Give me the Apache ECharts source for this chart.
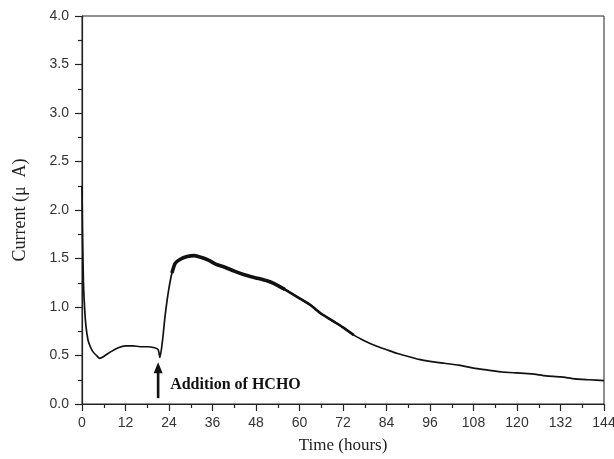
<!DOCTYPE html>
<html><head><meta charset="utf-8">
<script src="https://cdn.jsdelivr.net/npm/echarts@6/dist/echarts.min.js"></script>
<style>html,body{margin:0;padding:0;background:#fff}#c{width:614px;height:459px}</style>
</head><body><div id="c"></div>
<script>
const timeHours = [0, 0.15, 0.4, 0.75, 1.1, 1.65, 2.3, 3, 4, 4.9, 6, 8, 10, 12, 14, 16, 18, 20, 21, 21.5, 22.2, 22.9, 23.8, 24.8, 25.7, 27, 29, 31, 33, 35, 37, 39.4, 42, 45, 48, 51, 53, 56, 60, 63, 66, 69, 72, 75, 78, 81, 84, 87, 90, 93, 96, 100, 104, 108, 112, 116, 120, 124, 128, 132, 136, 140, 144];
const currentUA = [2.25, 1.75, 1.25, 0.97, 0.80, 0.66, 0.59, 0.54, 0.50, 0.47, 0.49, 0.54, 0.58, 0.60, 0.60, 0.59, 0.59, 0.58, 0.56, 0.48, 0.65, 0.9, 1.15, 1.35, 1.45, 1.49, 1.52, 1.53, 1.51, 1.48, 1.44, 1.41, 1.37, 1.33, 1.30, 1.27, 1.24, 1.18, 1.09, 1.02, 0.93, 0.86, 0.79, 0.71, 0.65, 0.60, 0.56, 0.52, 0.49, 0.46, 0.44, 0.42, 0.40, 0.37, 0.35, 0.33, 0.32, 0.31, 0.29, 0.28, 0.26, 0.25, 0.24];
const noisyStart = 24.8, noisyEnd = 56;     // segment drawn with a thick (noisy) trace
const semiNoisyStart = 53, semiNoisyEnd = 75; // tapering, medium-thickness segment
const xTicks = [0, 12, 24, 36, 48, 60, 72, 84, 96, 108, 120, 132, 144];
const yTicks = [0.0, 0.5, 1.0, 1.5, 2.0, 2.5, 3.0, 3.5, 4.0];
const annotation = { text: 'Addition of HCHO', t: 21, from: 0.43, to: 0.06 };

const pts = timeHours.map((t, i) => [t, currentUA[i]]);
const noisy = pts.filter(p => p[0] >= noisyStart && p[0] <= noisyEnd);
const semiNoisy = pts.filter(p => p[0] >= semiNoisyStart && p[0] <= semiNoisyEnd);

const chart = echarts.init(document.getElementById('c'), null, { renderer: 'canvas' });
const axisCol = '#222';
chart.setOption({
  animation: false,
  grid: { left: 82, right: 10, top: 16, bottom: 55, containLabel: false, outerBoundsMode: 'none',
    show: true, borderColor: axisCol, borderWidth: 1 },
  xAxis: {
    type: 'value', min: 0, max: 144, interval: 12,
    name: 'Time (hours)', nameLocation: 'middle', nameGap: 33,
    nameTextStyle: { fontFamily: 'Liberation Serif', fontSize: 17, color: '#222' },
    axisLine: { show: true, lineStyle: { color: axisCol, width: 1.2 } },
    axisTick: { show: true, length: 7, lineStyle: { color: axisCol, width: 1.2 } },
    minorTick: { show: true, splitNumber: 2, length: 4, lineStyle: { color: axisCol, width: 1.2 } },
    splitLine: { show: false },
    axisLabel: { fontFamily: 'Liberation Sans', fontSize: 14, color: '#333', margin: 12, hideOverlap: false,
      formatter: v => xTicks.includes(v) ? String(v) : '' }
  },
  yAxis: {
    type: 'value', min: 0, max: 4, interval: 0.5,
    name: 'Current (\u03bc\u2002A)', nameLocation: 'middle', nameGap: 53, nameRotate: 90,
    nameTextStyle: { fontFamily: 'Liberation Serif', fontSize: 18, color: '#222' },
    axisLine: { show: true, lineStyle: { color: axisCol, width: 1.2 } },
    axisTick: { show: true, length: 7, lineStyle: { color: axisCol, width: 1.2 } },
    minorTick: { show: true, splitNumber: 2, length: 4, lineStyle: { color: axisCol, width: 1.2 } },
    splitLine: { show: false },
    axisLabel: { fontFamily: 'Liberation Sans', fontSize: 14, color: '#333', margin: 13,
      formatter: v => { const m = yTicks.find(y => Math.abs(y - v) < 1e-9); return m === undefined ? '' : m.toFixed(1); } }
  },
  series: [
    { type: 'line', data: pts, showSymbol: false, smooth: 0.2, lineStyle: { color: '#111', width: 1.7 } },
    { type: 'line', data: semiNoisy, showSymbol: false, smooth: 0.2, lineStyle: { color: '#111', width: 2.6 } },
    { type: 'line', data: noisy, showSymbol: false, smooth: 0.2, lineStyle: { color: '#111', width: 3.6 } }
  ]
});

const arrowTop = chart.convertToPixel({ xAxisIndex: 0, yAxisIndex: 0 }, [annotation.t, annotation.from]);
const arrowBot = chart.convertToPixel({ xAxisIndex: 0, yAxisIndex: 0 }, [annotation.t, annotation.to]);
chart.setOption({
  graphic: [
    { type: 'line', shape: { x1: arrowTop[0], y1: arrowTop[1] + 8, x2: arrowBot[0], y2: arrowBot[1] }, style: { stroke: '#111', lineWidth: 2.6 } },
    { type: 'polygon', shape: { points: [[arrowTop[0], arrowTop[1]], [arrowTop[0] - 4.5, arrowTop[1] + 11], [arrowTop[0] + 4.5, arrowTop[1] + 11]] }, style: { fill: '#111' } },
    { type: 'text', x: arrowTop[0] + 12, y: arrowBot[1] - 13, style: { text: annotation.text, fontFamily: 'Liberation Serif', fontWeight: 'bold', fontSize: 16, fill: '#111', verticalAlign: 'middle' } }
  ]
});
</script></body></html>
